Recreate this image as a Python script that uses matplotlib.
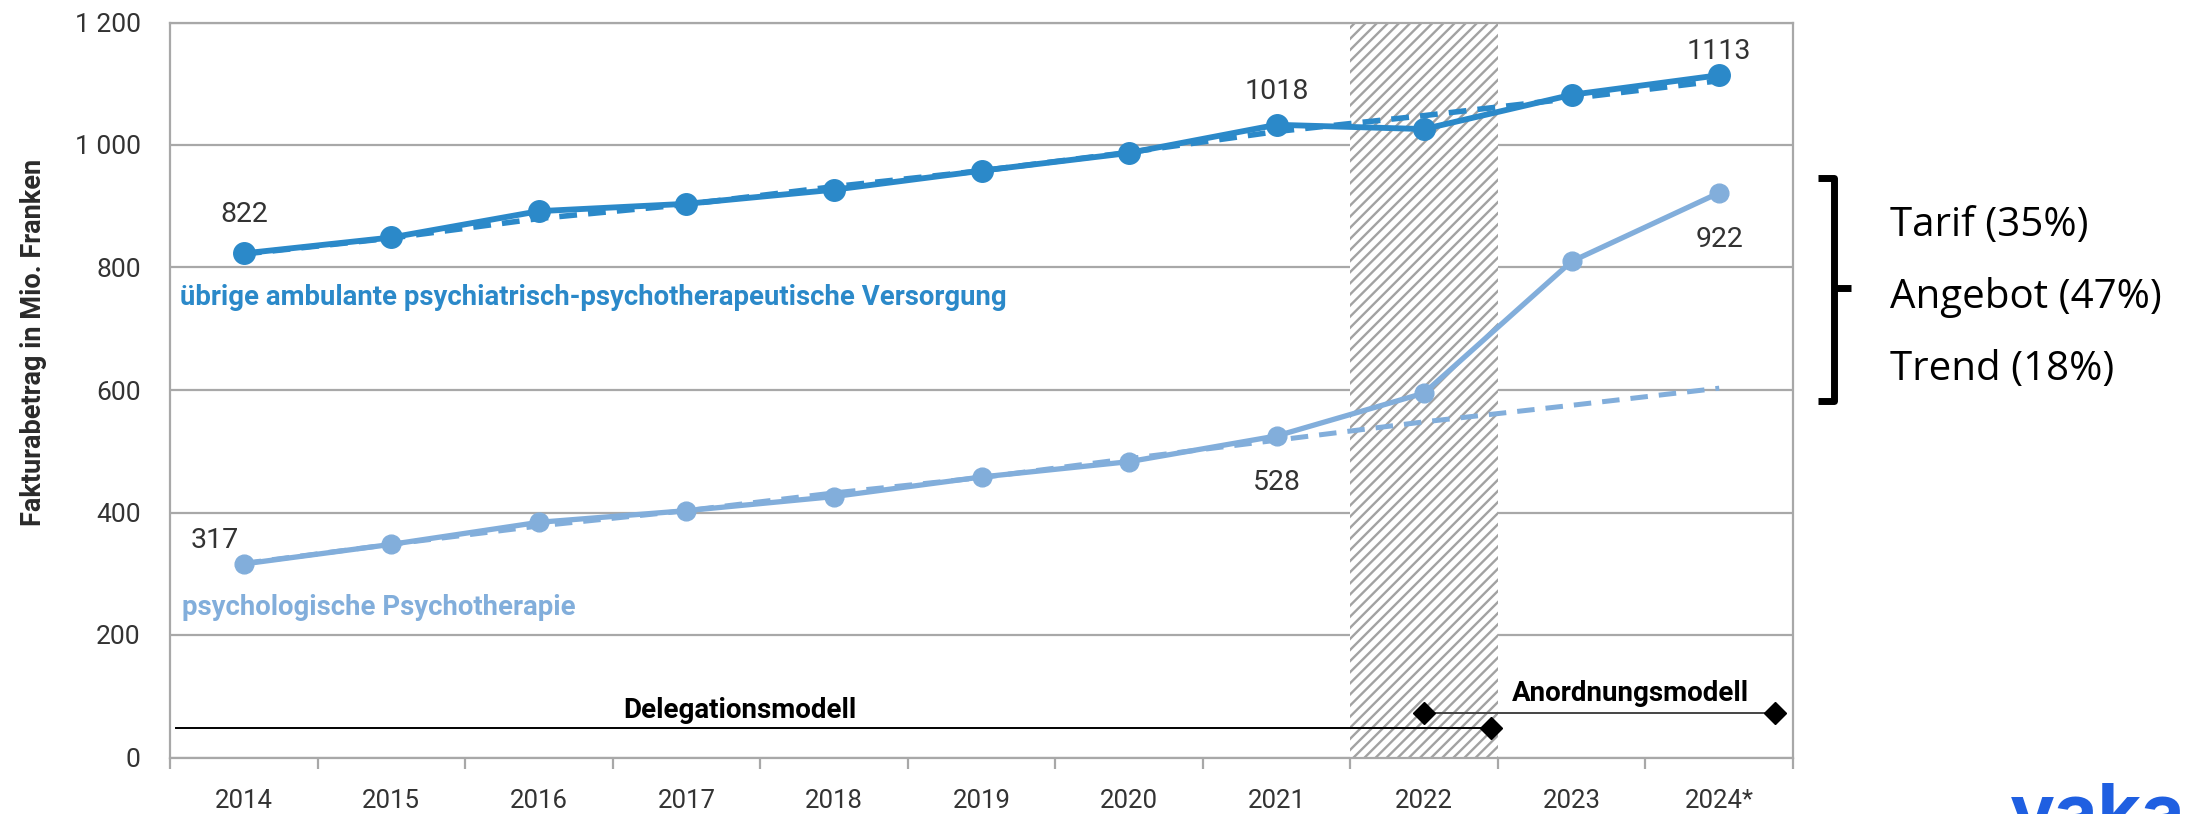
import numpy as np
import matplotlib.pyplot as plt
from matplotlib.lines import Line2D

plt.rcParams['font.family'] = ['Roboto', 'DejaVu Sans']
plt.rcParams['hatch.linewidth'] = 1.7

years = ['2014', '2015', '2016', '2017', '2018', '2019', '2020', '2021', '2022', '2023', '2024*']

# übrige ambulante psychiatrisch-psychotherapeutische Versorgung
uebrige = [823, 849, 892, 904, 927, 958, 987, 1033, 1026, 1082, 1114]
uebrige_trend = [822, 848, 880, 903, 932, 958, 988, 1022, 1048, 1076, 1105]
# psychologische Psychotherapie
psycho = [316, 348, 384, 403, 426, 458, 483, 525, 595, 810, 922]
psycho_trend = [317, 348, 378, 403, 432, 457, 488, 518, 548, 575, 603]

# Datenlabels: (Index, y, Text)
labels_uebrige = [(0, 886, '822'), (7, 1088, '1018'), (10, 1152, '1113')]
labels_psycho = [(-0.2, 354, '317'), (7, 449, '528'), (10, 845, '922')]

# Modellphasen
deleg_start, deleg_end, deleg_y = -0.46, 8.45, 48
anord_start, anord_end, anord_y = 8.0, 10.38, 73

treiber = ['Tarif (35%)', 'Angebot (47%)', 'Trend (18%)']

dark = '#2B89C9'
light = '#82AEDB'
grid_c = '#A8A8A8'

fig = plt.figure(figsize=(22.01, 8.14), dpi=100)
ax = fig.add_axes([170 / 2201, 56.5 / 814, 1623 / 2201, 735 / 814])

x = np.arange(len(years))

# schraffierter Bereich 2022
ax.axvspan(7.5, 8.5, facecolor='white', edgecolor='#A2A2A2', hatch='///',
           linewidth=0, zorder=1.5)

ax.plot(x, uebrige_trend, color=dark, lw=4.0, ls=(0, (3.2, 2.0)), zorder=3)
ax.plot(x, uebrige, color=dark, lw=4.2, marker='o', ms=15.5, zorder=4)
ax.plot(x, psycho_trend, color=light, lw=3.6, ls=(0, (3.5, 2.2)), zorder=3)
ax.plot(x, psycho, color=light, lw=3.8, marker='o', ms=13.5, zorder=4)

for xi, yi, t in labels_uebrige + labels_psycho:
    ax.text(xi, yi, t, ha='center', va='center', fontsize=20.5, color='#333333', zorder=5)

ax.text(-0.43, 751, 'übrige ambulante psychiatrisch-psychotherapeutische Versorgung',
        color=dark, fontsize=19.8, fontweight='bold', va='center', ha='left', zorder=5)
ax.text(-0.42, 245, 'psychologische Psychotherapie',
        color=light, fontsize=19.8, fontweight='bold', va='center', ha='left', zorder=5)

# Delegations- / Anordnungsmodell
ax.plot([deleg_start, deleg_end], [deleg_y, deleg_y], color='black', lw=1.4, zorder=4)
ax.plot([deleg_end], [deleg_y], marker='D', color='black', ms=11, zorder=5)
ax.plot([anord_start, anord_end], [anord_y, anord_y], color='#444444', lw=1.4, zorder=4)
ax.plot([anord_start, anord_end], [anord_y, anord_y], ls='none', marker='D',
        color='black', ms=11, zorder=5)
ax.text(3.36, deleg_y + 6, 'Delegationsmodell', ha='center', va='bottom',
        fontsize=20, fontweight='bold', color='black', zorder=5)
ax.text(9.4, anord_y + 9, 'Anordnungsmodell', ha='center', va='bottom',
        fontsize=20, fontweight='bold', color='black', zorder=5)

ax.set_xlim(-0.5, len(years) - 0.5)
ax.set_ylim(0, 1200)
ax.set_yticks(range(0, 1201, 200))
ax.set_yticklabels([f'{v:,}'.replace(',', ' ') for v in range(0, 1201, 200)])
ax.yaxis.grid(True, color=grid_c, lw=1.6, zorder=1)
ax.set_axisbelow(True)
ax.tick_params(axis='y', length=0, pad=21, labelsize=19, labelcolor='#333333')

ax.set_xticks(np.arange(-0.5, len(years), 1))
ax.set_xticklabels([])
ax.tick_params(axis='x', which='major', length=8, width=1.6, color=grid_c)
ax.set_xticks(x, minor=True)
ax.set_xticklabels(years, minor=True)
ax.tick_params(axis='x', which='minor', length=0, pad=23, labelsize=18.5, labelcolor='#333333')

for s in ax.spines.values():
    s.set_color(grid_c)
    s.set_linewidth(1.6)

ax.set_ylabel('Fakturabetrag in Mio. Franken', fontsize=19.5, fontweight='bold',
              color='#2A2A2A', labelpad=0)
ax.yaxis.set_label_coords(-0.0755, 0.565)

# Klammer rechts
W, H = 2201, 814
def fx(px):
    return px / W
def fy(py):
    return 1 - py / H

bk = dict(color='black', lw=5, solid_capstyle='butt', transform=fig.transFigure)
fig.add_artist(Line2D([fx(1818), fx(1834), fx(1834), fx(1818)],
                      [fy(178), fy(178), fy(401), fy(401)], **bk))
fig.add_artist(Line2D([fx(1834), fx(1851)], [fy(288), fy(288)], **bk))

for i, t in enumerate(treiber):
    fig.text(fx(1890), fy(226 + i * 72), t, fontsize=29, family='Open Sans',
             va='center', ha='left', color='black')

# Logo (abgeschnitten)
fig.text(fx(2010), fy(838), 'vaka', fontsize=54, fontweight='bold', family='Inter',
         color='#1F5FE1', ha='left', va='baseline')

fig.savefig('out.png', dpi=100)
